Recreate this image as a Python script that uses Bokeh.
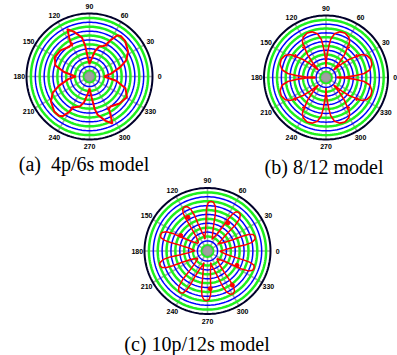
import numpy as np
from bokeh.plotting import figure
from bokeh.models import Range1d
from bokeh.embed import file_html
from bokeh.resources import INLINE
from bokeh.core.properties import value

# ---------------- data ----------------
ANGLE_TICKS = [0, 30, 60, 90, 120, 150, 180, 210, 240, 270, 300, 330]
RING_R = [0.09, 0.16, 0.23, 0.30, 0.37, 0.44, 0.51, 0.58, 0.65, 0.72, 0.79, 0.86, 0.93]
RING_KIND = ["g", "b", "g", "b", "g", "b", "g", "b", "g", "b", "g", "b", "g"]

# (a) 4p/6s : closed curve, angle (deg) and normalised radius
A_THETA = [0, 7, 17, 24, 33, 45, 52, 56, 60, 64, 61, 66, 72, 78, 84, 90,
           95, 98, 101, 109, 115, 118, 120, 117, 124, 138, 151, 162, 170, 180,
           187, 197, 204, 213, 225, 232, 236, 240, 243, 240, 246, 252, 258, 264, 270,
           276, 279, 282, 290, 296, 299, 302, 299, 305, 318, 331, 342, 351, 360]
A_R = [0.23, 0.34, 0.51, 0.64, 0.73, 0.80, 0.81, 0.79, 0.66, 0.54, 0.58, 0.53, 0.50, 0.41, 0.27, 0.20,
       0.30, 0.50, 0.63, 0.75, 0.83, 0.68, 0.56, 0.60, 0.57, 0.62, 0.63, 0.57, 0.41, 0.22,
       0.34, 0.51, 0.64, 0.73, 0.79, 0.79, 0.76, 0.65, 0.54, 0.58, 0.53, 0.50, 0.42, 0.28, 0.19,
       0.34, 0.52, 0.62, 0.75, 0.83, 0.68, 0.57, 0.61, 0.58, 0.64, 0.68, 0.60, 0.43, 0.23]

# (b) 8/12 : eight petals
B_PETAL_CENTER = [21, 68, 112, 159, 201, 248, 292, 339]
B_PETAL_SIDE = [1, -1, 1, -1, 1, -1, 1, -1]
B_PROFILE_DTH = [-23, -20, -17, -15, -11, -5, 1, 7, 11, 13, 12, 16, 14, 17, 20, 23]
B_PROFILE_R = [0.18, 0.32, 0.50, 0.62, 0.72, 0.77, 0.78, 0.75, 0.70, 0.64, 0.60, 0.62, 0.58, 0.47, 0.33, 0.18]

# (c) 10p/12s : ten narrow petals
C_PETAL_CENTER = [17, 51, 86, 118, 161, 197, 237, 269, 301, 340]
C_PROFILE_DTH = [-18, -12, -9, -8, -6, -3, 0, 3, 5, 6, 7, 10, 18]
C_PROFILE_R = [0.20, 0.30, 0.45, 0.60, 0.72, 0.78, 0.79, 0.77, 0.70, 0.60, 0.45, 0.30, 0.20]
C_MARK_THETA = [120, 274, 150, 306, 334, 54]
C_MARK_R = [0.62, 0.60, 0.49, 0.67, 0.52, 0.55]

CAPTIONS = ["(a)\u00a0\u00a04p/6s model", "(b) 8/12 model", "(c) 10p/12s model"]

# ---------------- layout (reference pixel space) ----------------
PANELS = [(89.0, 76.0, 63.0), (325.5, 77.0, 62.0), (207.0, 250.5, 63.0)]
CAPTION_POS = [(83.5, 163.5), (323.5, 166.0), (196.5, 343.0)]

p = figure(width=397, height=355, x_range=Range1d(0, 397), y_range=Range1d(355, 0),
           output_backend="svg", toolbar_location=None, min_border=0)
p.axis.visible = False
p.grid.visible = False
p.outline_line_color = None
p.background_fill_color = "white"


def to_xy(cx, cy, R, th_deg, r):
    th = np.radians(np.asarray(th_deg, dtype=float))
    r = np.asarray(r, dtype=float)
    return cx + R * r * np.cos(th), cy - R * r * np.sin(th)


def b_curve():
    th, rr = [], []
    for c, s in zip(B_PETAL_CENTER, B_PETAL_SIDE):
        d = [s * v for v in B_PROFILE_DTH]
        r = list(B_PROFILE_R)
        if s < 0:
            d, r = d[::-1], r[::-1]
        th += [c + v for v in d]
        rr += r
    th.append(th[0] + 360)
    rr.append(rr[0])
    return th, rr


def c_curve():
    th, rr = [], []
    for c in C_PETAL_CENTER:
        th += [c + v for v in C_PROFILE_DTH]
        rr += list(C_PROFILE_R)
    th.append(th[0] + 360)
    rr.append(rr[0])
    return th, rr


curves = [(A_THETA, A_R, 2.0), b_curve() + (1.6,), c_curve() + (1.5,)]
full = np.linspace(0, 360, 181)

for (cx, cy, R), (cth, cr, lw) in zip(PANELS, curves):
    # spokes
    xs, ys = [], []
    for a in ANGLE_TICKS:
        x, y = to_xy(cx, cy, R, [a, a], [0.0, 1.0])
        xs.append(list(x)); ys.append(list(y))
    p.multi_line(xs, ys, line_color="#a8a8a8", line_width=1.6)
    # rings
    for rk, kind in zip(RING_R, RING_KIND):
        x, y = to_xy(cx, cy, R, full, np.full_like(full, rk))
        if kind == "g":
            p.line(x, y, line_color="#1ef01e", line_width=2.5)
        else:
            p.line(x, y, line_color="#0000ff", line_width=1.5)
    # centre disc
    x, y = to_xy(cx, cy, R, full, np.full_like(full, 0.075))
    p.patch(x, y, fill_color="#a0a0a0", line_color="#909090", line_width=1)
    # outer boundary
    x, y = to_xy(cx, cy, R, full, np.ones_like(full))
    p.line(x, y, line_color="#00002a", line_width=2)
    # angle labels
    lx, ly = to_xy(cx, cy, R, ANGLE_TICKS, [1.115] * len(ANGLE_TICKS))
    p.text(lx, ly, text=[str(a) for a in ANGLE_TICKS], text_align="center",
           text_baseline="middle", text_font=value("Liberation Sans"),
           text_font_style="bold", text_font_size="7px", text_color="black")
    # red curve
    x, y = to_xy(cx, cy, R, cth, cr)
    p.line(x, y, line_color="#ff0000", line_width=lw)

# markers on (c)
cx, cy, R = PANELS[2]
mx, my = to_xy(cx, cy, R, C_MARK_THETA, C_MARK_R)
p.scatter(mx, my, size=4, fill_color="#ff0000", line_color="#ff0000")

# captions
p.text([c[0] for c in CAPTION_POS], [c[1] for c in CAPTION_POS], text=CAPTIONS,
       text_align="center", text_baseline="middle", text_font=value("Liberation Serif"),
       text_font_size="20px", text_color="black")

open("out.html", "w").write(file_html(p, INLINE))
